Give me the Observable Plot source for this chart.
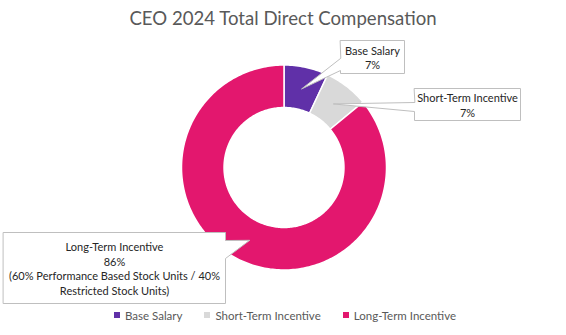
<!DOCTYPE html>
<html><head><meta charset="utf-8">
<script src="https://cdn.jsdelivr.net/npm/d3@7"></script>
<script src="https://cdn.jsdelivr.net/npm/@observablehq/plot@0.6"></script>
<style>
body{margin:0;background:#fff;font-family:Lato,"Noto Sans",sans-serif;}
#wrap{width:566px;height:335px;position:relative;overflow:hidden;background:#fff}
#title{height:34px;text-align:center;font-size:18.6px;color:#595959;line-height:36px;}
#legend{display:flex;justify-content:center;align-items:center;height:20px;font-size:11.5px;color:#595959;margin-top:-1px;padding-left:4px}
#legend .item{display:flex;align-items:center;margin:0 11px}
#legend .sw{width:6px;height:6px;margin-right:5px}
</style></head><body>
<div id="wrap"><div id="title">CEO 2024 Total Direct Compensation</div><div id="chart"></div><div id="legend"></div></div>
<script>
// ---- data ----
const categories = ["Base Salary", "Short-Term Incentive", "Long-Term Incentive"];
const shares = [7, 7, 86];
const colors = ["#6030A8", "#D9D9D9", "#E3176E"];
const notes = ["", "", "(60% Performance Based Stock Units / 40%\nRestricted Stock Units)"];

// ---- layout (pixels) ----
const W = 566, H = 272, top0 = 34;
const cx = 283.5, cy = 133, R = 102.5, innerFrac = 0.585, tipFrac = 0.785;
// callout boxes: page pixel coords [x1, x2, y1, y2], wedge side and wedge span
const callouts = [
  {box: [340, 404, 40, 73], side: "left", w: [58, 70]},
  {box: [414, 520, 88, 120], side: "left", w: [102, 111]},
  {box: [3, 225, 232, 303], side: "right", w: [240, 258]}
];
const px = v => (v - cx) / R;
const py = v => (cy - (v - top0)) / R;

const pie = d3.pie().sort(null).value(d => d.value)(categories.map((c, i) => ({cat: c, value: shares[i], color: colors[i]})));

function arcPts(p) {
  const n = Math.max(8, Math.ceil((p.endAngle - p.startAngle) / 0.02));
  const pts = [];
  for (let k = 0; k <= n; k++) {
    const a = p.startAngle + (p.endAngle - p.startAngle) * k / n;
    pts.push({x: Math.sin(a), y: Math.cos(a)});
  }
  for (let k = n; k >= 0; k--) {
    const a = p.startAngle + (p.endAngle - p.startAngle) * k / n;
    pts.push({x: innerFrac * Math.sin(a), y: innerFrac * Math.cos(a)});
  }
  return pts;
}

const marks = [];
pie.forEach(p => {
  marks.push(Plot.line(arcPts(p), {x: "x", y: "y", fill: p.data.color, stroke: "white", strokeWidth: 1.5, curve: "linear-closed"}));
});

pie.forEach((p, i) => {
  const c = callouts[i];
  const mid = (p.startAngle + p.endAngle) / 2;
  const tip = {x: tipFrac * Math.sin(mid), y: tipFrac * Math.cos(mid)};
  const [x1, x2, y1, y2] = c.box;
  let pts;
  if (c.side === "left") {
    pts = [[x1, y1], [x2, y1], [x2, y2], [x1, y2], [x1, c.w[1]]].map(([a, b]) => ({x: px(a), y: py(b)}));
    pts.push(tip);
    pts.push({x: px(x1), y: py(c.w[0])});
  } else {
    pts = [[x1, y1], [x2, y1], [x2, c.w[0]]].map(([a, b]) => ({x: px(a), y: py(b)}));
    pts.push(tip);
    [[x2, c.w[1]], [x2, y2], [x1, y2]].forEach(([a, b]) => pts.push({x: px(a), y: py(b)}));
  }
  marks.push(Plot.line(pts, {x: "x", y: "y", fill: "white", stroke: "#BFBFBF", strokeWidth: 1, curve: "linear-closed"}));
  const label = p.data.cat + "\n" + p.data.value + "%" + (notes[i] ? "\n" + notes[i] : "");
  marks.push(Plot.text([label], {x: px((x1 + x2) / 2), y: py((y1 + y2) / 2 + 0.5), text: d => d, fontSize: 11, fill: "#262626", lineHeight: 1.33, fontFamily: "Lato"}));
});

const chart = Plot.plot({
  width: W, height: H,
  margin: 0,
  x: {domain: [-cx / R, (W - cx) / R], axis: null},
  y: {domain: [-(H - cy) / R, cy / R], axis: null},
  marks
});
document.getElementById("chart").appendChild(chart);

const lg = document.getElementById("legend");
categories.forEach((c, i) => {
  const it = document.createElement("div"); it.className = "item";
  const sw = document.createElement("div"); sw.className = "sw"; sw.style.background = colors[i];
  const t = document.createElement("span"); t.textContent = c;
  it.appendChild(sw); it.appendChild(t); lg.appendChild(it);
});
</script>
</body></html>
